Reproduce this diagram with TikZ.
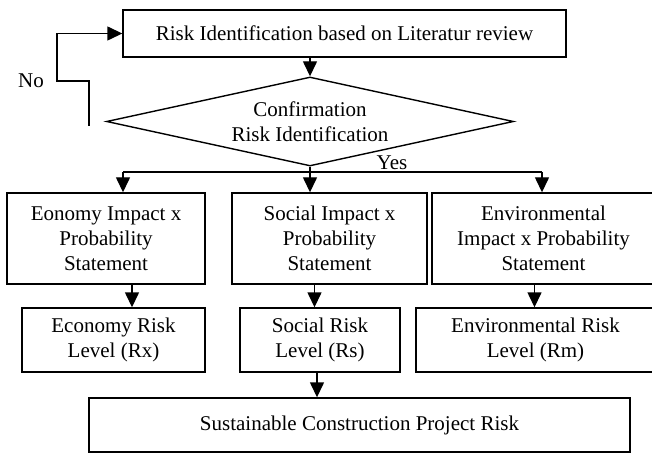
\documentclass[tikz,border=0pt]{standalone}
\usepackage{fontspec}
\setmainfont{Liberation Serif}
\usetikzlibrary{arrows.meta,positioning,shapes.geometric}

\begin{document}
\begin{tikzpicture}[x=1pt, y=-1pt, >={Triangle[length=15pt,width=14pt]},
    every node/.style={font=\fontsize{21}{25}\selectfont},
    procbox/.style={draw, line width=1.4pt, align=center, inner sep=0pt},
    flow/.style={->, line width=1.4pt}]
  \useasboundingbox (0,0) rectangle (652,454);
  % --- literature review ---
  \node[procbox, minimum width=443pt, minimum height=47pt] (litrev) at (344.5,33.5)
    {Risk Identification based on Literatur review};
  % --- confirmation decision ---
  \node[procbox, diamond, aspect=4.57, minimum width=407pt, minimum height=89pt]
    (confirm) at (310,121.5) {Confirmation\\Risk Identification};
  % --- impact x probability statements ---
  \node[procbox, minimum width=198pt, minimum height=91pt] (econ) at (106,238.5)
    {Eonomy Impact x\\Probability\\Statement};
  \node[procbox, minimum width=195pt, minimum height=91pt] (social) at (329.5,238.5)
    {Social Impact x\\Probability\\Statement};
  \node[procbox, minimum width=223pt, minimum height=91pt] (env) at (543.5,238.5)
    {Environmental\\Impact x Probability\\Statement};
  % --- risk levels ---
  \node[procbox, minimum width=183pt, minimum height=64pt] (econlvl) at (113.5,340)
    {Economy Risk\\Level (Rx)};
  \node[procbox, minimum width=160pt, minimum height=64pt] (soclvl) at (320,340)
    {Social Risk\\Level (Rs)};
  \node[procbox, minimum width=239pt, minimum height=64pt] (envlvl) at (535.5,340)
    {Environmental Risk\\Level (Rm)};
  % --- overall project risk ---
  \node[procbox, minimum width=541pt, minimum height=54pt] (sustain) at (359.5,425)
    {Sustainable Construction Project Risk};
  % --- labels ---
  \node (nolbl) at (31,81) {No};
  \node[anchor=base] (yeslbl) at (392,170) {Yes};
  % --- review to decision ---
  \draw[flow] (confirm.north |- litrev.south) -- (confirm.north);
  % --- No: back to the review ---
  \coordinate (nostart) at (89,126);
  \coordinate (noturn) at (57,81);
  \draw[flow] (nostart) |- (noturn) |- (litrev.west);
  % --- Yes: split into three branches ---
  \coordinate (brL) at (123,172);
  \coordinate (brR) at (542,172);
  \coordinate (split) at (confirm.south |- brL);
  \draw[line width=1.4pt] (confirm.south) -- (split);
  \draw[line width=1.4pt] (brL) -- (brR);
  \draw[flow] (brL) -- (brL |- econ.north);
  \draw[flow] (split) -- (split |- social.north);
  \draw[flow] (brR) -- (brR |- env.north);
  % --- statements to risk levels ---
  \coordinate (ea) at ([xshift=26pt]econ.south);
  \coordinate (sa) at ([xshift=-15pt]social.south);
  \coordinate (va) at ([xshift=-9pt]env.south);
  \draw[flow] (ea) -- (ea |- econlvl.north);
  \draw[flow] (sa) -- (sa |- soclvl.north);
  \draw[flow] (va) -- (va |- envlvl.north);
  % --- social level to project risk ---
  \coordinate (pa) at ([xshift=-3pt]soclvl.south);
  \draw[flow] (pa) -- (pa |- sustain.north);
\end{tikzpicture}
\end{document}
